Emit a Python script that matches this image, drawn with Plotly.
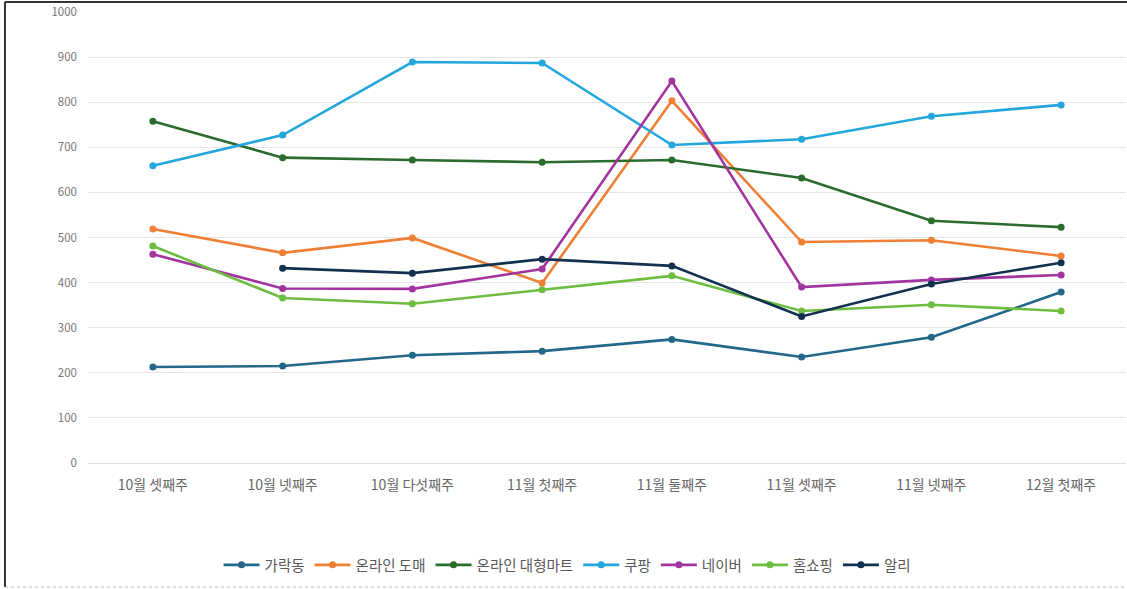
import plotly.graph_objects as go

categories = ["10월 셋째주", "10월 넷째주", "10월 다섯째주", "11월 첫째주",
              "11월 둘째주", "11월 셋째주", "11월 넷째주", "12월 첫째주"]

garak = [213, 215, 239, 248, 274, 235, 279, 379]
online_wholesale = [519, 466, 499, 399, 803, 490, 494, 459]
online_mart = [758, 677, 672, 667, 672, 632, 537, 523]
coupang = [659, 727, 889, 887, 705, 718, 769, 794]
naver = [463, 387, 386, 430, 847, 390, 406, 417]
homeshopping = [481, 366, 353, 384, 415, 337, 351, 337]
ali = [None, 432, 421, 452, 437, 325, 397, 444]

series_names = ["가락동", "온라인 도매", "온라인 대형마트", "쿠팡", "네이버", "홈쇼핑", "알리"]
series_values = [garak, online_wholesale, online_mart, coupang, naver, homeshopping, ali]
colors = ["#23678a", "#ef7f35", "#2a6c2c", "#22a6dc", "#a2349f", "#6cbd40", "#12304f"]

y_ticks = [0, 100, 200, 300, 400, 500, 600, 700, 800, 900, 1000]

fig = go.Figure()
for name, vals, c in zip(series_names, series_values, colors):
    fig.add_trace(go.Scatter(
        x=list(range(len(categories))), y=vals, name=name, mode="lines+markers",
        line=dict(color=c, width=2.6), marker=dict(color=c, size=7),
        connectgaps=False,
    ))

font_family = "Noto Sans CJK KR, Noto Sans, sans-serif"
fig.update_layout(
    width=1127, height=589,
    margin=dict(l=88, r=1, t=12, b=126),
    paper_bgcolor="white", plot_bgcolor="white",
    font=dict(family=font_family, color="#666666", size=11),
    showlegend=True,
    legend=dict(orientation="h", x=0.462, xanchor="center", y=-0.226, yanchor="middle",
                font=dict(size=14.5, color="#595959"), itemwidth=36, traceorder="normal",
                bgcolor="rgba(0,0,0,0)"),
    xaxis=dict(range=[-0.5, 7.5], tickmode="array", tickvals=list(range(len(categories))),
               ticktext=categories, showgrid=False, zeroline=False, showline=False,
               ticks="", ticklabelstandoff=12, tickfont=dict(size=14, color="#666666")),
    yaxis=dict(range=[0, 1000], tickmode="array", tickvals=y_ticks,
               showgrid=True, gridcolor="#e6e6e6", gridwidth=1, zeroline=True,
               zerolinecolor="#e0e0e0", zerolinewidth=1, showline=False,
               ticks="", ticklabelstandoff=10, tickfont=dict(size=11.5, color="#777777")),
    shapes=[
        dict(type="line", xref="paper", yref="paper", x0=-0.08, x1=-0.08, y0=-0.275, y1=1.022,
             line=dict(color="#333333", width=2)),
        dict(type="line", xref="paper", yref="paper", x0=-0.08, x1=1.001, y0=1.022, y1=1.022,
             line=dict(color="#333333", width=2)),
        dict(type="line", xref="paper", yref="paper", x0=-0.08, x1=1.001, y0=-0.275, y1=-0.275,
             line=dict(color="#bbbbbb", width=1, dash="dot")),
    ],
)

fig.write_html("out.html", config={"displayModeBar": False},
               post_script="document.body.style.margin='0';document.body.style.overflow='hidden';")
